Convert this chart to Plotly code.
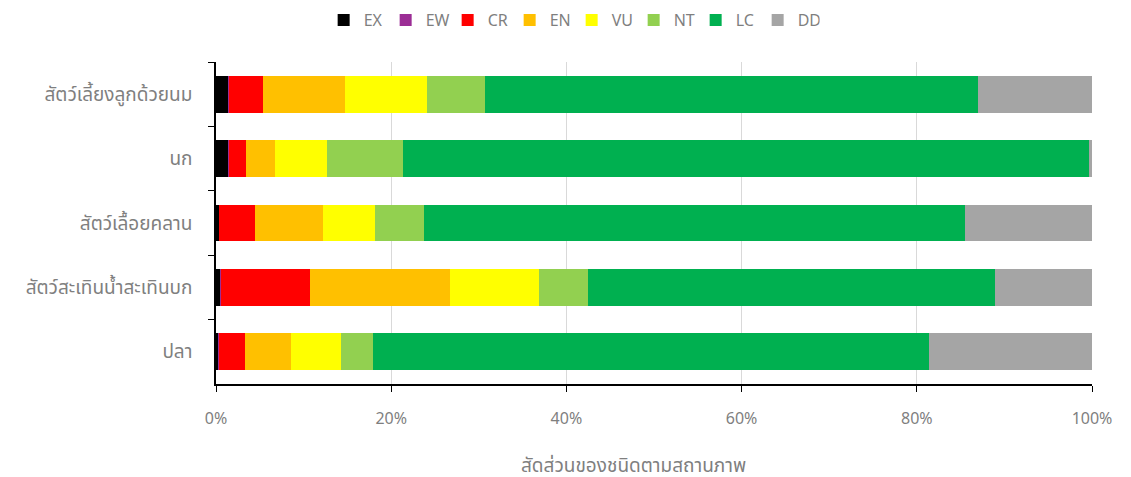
import plotly.graph_objects as go

categories = ["สัตว์เลี้ยงลูกด้วยนม", "นก", "สัตว์เลื้อยคลาน", "สัตว์สะเทินน้ำสะเทินบก", "ปลา"]
status = ["EX", "EW", "CR", "EN", "VU", "NT", "LC", "DD"]
colors = ["#000000", "#9b2d95", "#ff0000", "#ffc000", "#ffff00", "#92d050", "#00b050", "#a5a5a5"]
xtick_vals = [0, 20, 40, 60, 80, 100]
xtick_text = ["0%", "20%", "40%", "60%", "80%", "100%"]

EX = [1.4, 1.4, 0.3, 0.5, 0.3]
EW = [0.1, 0.05, 0.0, 0.02, 0.01]
CR = [3.9, 1.95, 4.2, 10.2, 3.0]
EN = [9.3, 3.3, 7.7, 16.0, 5.2]
VU = [9.4, 6.0, 6.0, 10.2, 5.8]
NT = [6.6, 8.7, 5.5, 5.6, 3.6]
LC = [56.3, 78.3, 61.8, 46.4, 63.5]
DD = [13.0, 0.3, 14.5, 11.1, 18.6]

series = [EX, EW, CR, EN, VU, NT, LC, DD]

fig = go.Figure()
for name, vals, col in zip(status, series, colors):
    fig.add_trace(go.Bar(
        y=categories, x=vals, name=name, orientation="h",
        marker=dict(color=col, line=dict(width=0)),
    ))

font_family = "Noto Sans, Noto Sans Thai, DejaVu Sans, sans-serif"
fig.update_layout(
    barmode="stack",
    bargap=0.43,
    width=1123, height=469,
    margin=dict(l=208, r=39, t=54, b=93, autoexpand=False),
    plot_bgcolor="white", paper_bgcolor="white",
    font=dict(family=font_family, color="#7f7f7f", size=16),
    legend=dict(orientation="h", x=0.406, xanchor="center", y=0.974, yanchor="middle",
                yref="container", entrywidth=17, font=dict(size=16, color="#7f7f7f"),
                traceorder="normal", itemclick=False),
    xaxis=dict(range=[0, 100], tickmode="array", tickvals=xtick_vals, ticktext=xtick_text,
               showgrid=True, gridcolor="#d9d9d9", gridwidth=1,
               showline=True, linecolor="black", linewidth=1.5,
               ticks="outside", tickcolor="black", ticklen=6, ticklabelstandoff=13,
               tickfont=dict(size=16, color="#7f7f7f"), zeroline=False, automargin=False),
    yaxis=dict(autorange="reversed", showline=True, linecolor="black", linewidth=1.5,
               ticks="outside", tickson="boundaries", tickcolor="black", ticklen=6,
               ticklabelstandoff=18, automargin=False,
               tickfont=dict(size=19, color="#7f7f7f"), showgrid=False),
)
fig.add_annotation(text="สัดส่วนของชนิดตามสถานภาพ", xref="paper", yref="paper",
                   x=0.477, y=-0.252, yanchor="middle", showarrow=False,
                   font=dict(size=19, color="#7f7f7f"))
fig.write_html("out.html")
